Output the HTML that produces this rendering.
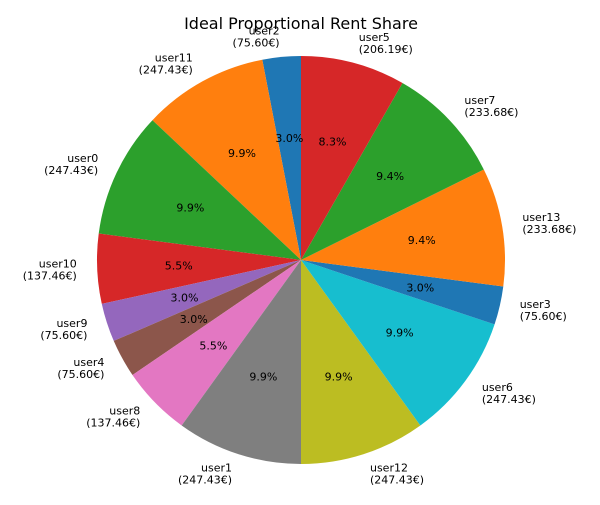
<!DOCTYPE html>
<html><head><meta charset="utf-8"><style>
body{margin:0;background:#fff}
svg text{font-family:"DejaVu Sans","Liberation Sans",sans-serif}
</style></head><body>
<svg id="chart" width="600" height="500" viewBox="0 0 600 500">
<text x="301" y="29" text-anchor="middle" font-size="16">Ideal Proportional Rent Share</text>
<g id="wedges"></g><g id="labels"></g>
</svg>
<script>
const users=["user2","user11","user0","user10","user9","user4","user8","user1","user12","user6","user3","user13","user7","user5"];
const rents=[75.60,247.43,247.43,137.46,75.60,75.60,137.46,247.43,247.43,247.43,75.60,233.68,233.68,206.19];
const colors=["#1f77b4","#ff7f0e","#2ca02c","#d62728","#9467bd","#8c564b","#e377c2","#7f7f7f","#bcbd22","#17becf"];
const NS="http://www.w3.org/2000/svg";
const cx=301,cy=260,r=204;
const total=rents.reduce((a,b)=>a+b,0);
const wg=document.getElementById('wedges'),lg=document.getElementById('labels');
function pt(a,rr){const t=a*Math.PI/180;return [cx+rr*Math.cos(t),cy-rr*Math.sin(t)];}
let ang=90;
rents.forEach((v,i)=>{
  const sweep=v/total*360,a0=ang,a1=ang+sweep,mid=(a0+a1)/2;
  const p0=pt(a0,r),p1=pt(a1,r);
  const path=document.createElementNS(NS,'path');
  path.setAttribute('d',`M${cx},${cy}L${p0[0]},${p0[1]}A${r},${r} 0 ${sweep>180?1:0} 0 ${p1[0]},${p1[1]}Z`);
  path.setAttribute('fill',colors[i%10]);
  
  
  wg.appendChild(path);
  const pp=pt(mid,r*0.6);
  const pct=document.createElementNS(NS,'text');
  pct.setAttribute('x',pp[0]);pct.setAttribute('y',pp[1]+4);
  pct.setAttribute('text-anchor','middle');pct.setAttribute('font-size','11');
  pct.textContent=(v/total*100).toFixed(1)+'%';
  
  
  lg.appendChild(pct);
  const lp=pt(mid,r*1.1);
  const anc=lp[0]<cx?'end':'start';
  const t=document.createElementNS(NS,'text');
  t.setAttribute('font-size','11');t.setAttribute('text-anchor',anc);
  
  
  [[users[i],-2],['('+v.toFixed(2)+'€)',10]].forEach(([s,dy])=>{
    const ts=document.createElementNS(NS,'tspan');
    ts.setAttribute('x',lp[0]);ts.setAttribute('y',lp[1]+dy);ts.textContent=s;
    t.appendChild(ts);
  });
  lg.appendChild(t);
  ang=a1;
});
</script>
</body></html>
